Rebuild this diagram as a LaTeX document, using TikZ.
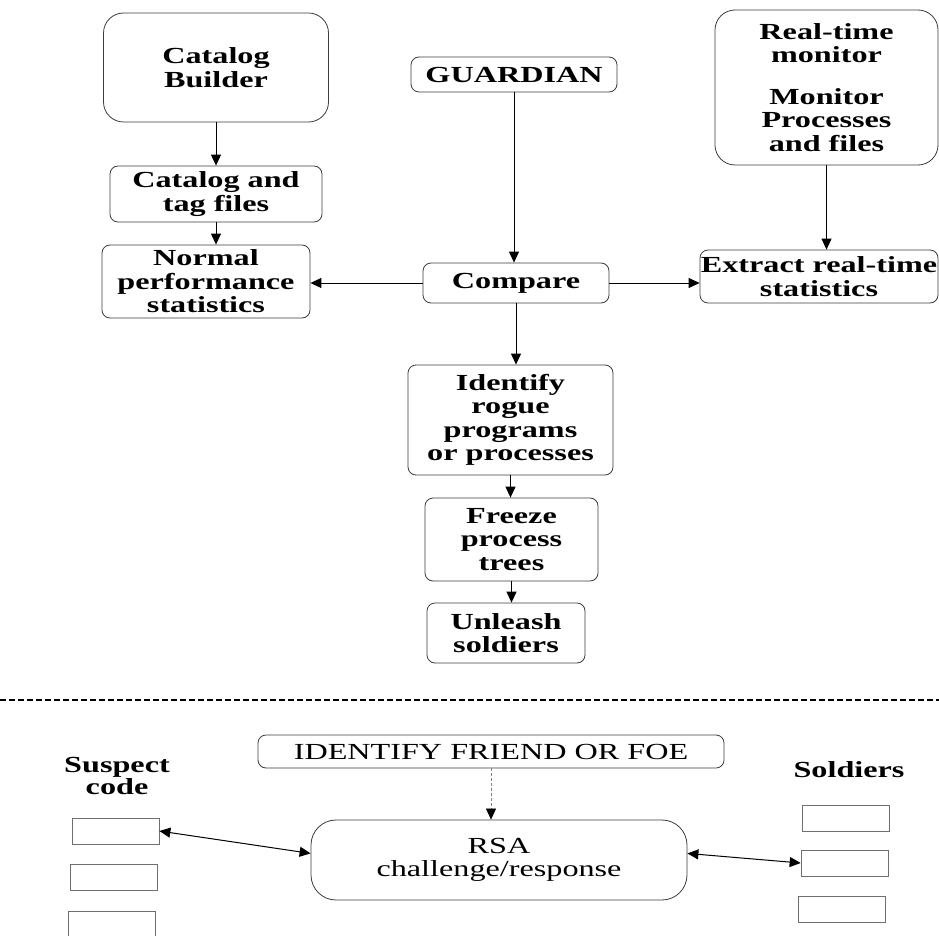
\documentclass[tikz,border=0pt]{standalone}
\usepackage{fontspec}
\setmainfont{Liberation Serif}[FakeStretch=1.4]
\usetikzlibrary{arrows.meta}
\definecolor{boxline}{RGB}{60,60,60}
\definecolor{cellline}{RGB}{110,110,110}
\tikzset{
  box/.style={rectangle, draw=boxline, rounded corners=8pt, line width=0.8pt, align=center, inner sep=0pt, font=\fontsize{23}{23.5}\selectfont\bfseries},
  bigbox/.style={box, rounded corners=20pt},
  plainbox/.style={box, font=\fontsize{23}{23.5}\selectfont},
  cell/.style={rectangle, draw=cellline, line width=0.7pt, minimum width=87pt, minimum height=26pt, inner sep=0pt},
  headtext/.style={align=center, inner sep=0pt, font=\fontsize{23}{22.5}\selectfont\bfseries},
  arrow/.style={-{Triangle[length=11pt,width=10pt]}, line width=1pt},
  twoarrow/.style={{Triangle[length=11pt,width=10pt]}-{Triangle[length=11pt,width=10pt]}, line width=1pt},
  dasharrow/.style={-{Triangle[length=11pt,width=10pt,color=black]}, draw=gray, line width=0.7pt, dash pattern=on 3pt off 2pt},
  sepline/.style={line width=2.5pt, dash pattern=on 6pt off 3pt}
}
\begin{document}
\begin{tikzpicture}[x=1pt, y=-1pt]
  \useasboundingbox (0,0) rectangle (939,936);
  % upper part: GUARDIAN
  \node[bigbox, minimum width=225pt, minimum height=109pt] (builder) at (216,67.5) {Catalog\\Builder};
  \node[box, minimum width=212pt, minimum height=56pt] (tagfiles) at (216,194) {Catalog and\\tag files};
  \node[box, minimum width=208pt, minimum height=73pt] (normal) at (206,281.5) {Normal\\performance\\statistics};
  \node[box, minimum width=206pt, minimum height=35pt] (guard) at (514,74.5) {GUARDIAN};
  \node[box, minimum width=186pt, minimum height=40pt] (cmp) at (516,283) {Compare};
  \node[bigbox, minimum width=223pt, minimum height=155pt] (monitor) at (826.5,87.5) {Real-time\\monitor\\[18pt]Monitor\\Processes\\and files};
  \node[box, minimum width=238pt, minimum height=53pt] (extract) at (819,276.5) {Extract real-time\\statistics};
  \node[box, minimum width=205pt, minimum height=110pt] (rogue) at (510.5,420) {Identify\\rogue\\programs\\or processes};
  \node[box, minimum width=173pt, minimum height=83pt] (freeze) at (511.5,539.5) {Freeze\\process\\trees};
  \node[box, minimum width=158pt, minimum height=60pt] (unleash) at (506,633) {Unleash\\soldiers};

  \draw[arrow] (builder.south) -- (builder.south |- tagfiles.north);
  \draw[arrow] (tagfiles.south) -- (tagfiles.south |- normal.north);
  \draw[arrow] (guard.south) -- (guard.south |- cmp.north);
  \draw[arrow] (cmp.west) -- (cmp.west -| normal.east);
  \draw[arrow] (cmp.east) -- (cmp.east -| extract.west);
  \draw[arrow] (monitor.south) -- (monitor.south |- extract.north);
  \draw[arrow] (cmp.south) -- (cmp.south |- rogue.north);
  \draw[arrow] (rogue.south) -- (rogue.south |- freeze.north);
  \draw[arrow] (freeze.south) -- (freeze.south |- unleash.north);

  % separator
  \draw[sepline] (0,700) -- (939,700);

  % lower part: IFF
  \node[plainbox, minimum width=466pt, minimum height=33pt] (iff) at (491,751.5) {IDENTIFY FRIEND OR FOE};
  \node[plainbox, rounded corners=25pt, minimum width=376pt, minimum height=80pt] (rsa) at (499,860) {RSA\\challenge/response};
  \node[headtext] (suspect) at (117,776) {Suspect\\code};
  \node[headtext] (soldiers) at (849,770) {Soldiers};
  \node[cell] (sus1) at (115.5,831) {};
  \node[cell] (sus2) at (113.5,877.5) {};
  \node[cell, minimum height=30pt] (sus3) at (112,926) {};
  \node[cell] (sol1) at (845.5,818) {};
  \node[cell] (sol2) at (844.5,863) {};
  \node[cell] (sol3) at (842,909.5) {};

  \draw[dasharrow] (iff.south) -- (iff.south |- rsa.north);
  \draw[twoarrow] (sus1.east) -- (rsa.178);
  \draw[twoarrow] (rsa.2) -- (sol2.west);
\end{tikzpicture}
\end{document}
